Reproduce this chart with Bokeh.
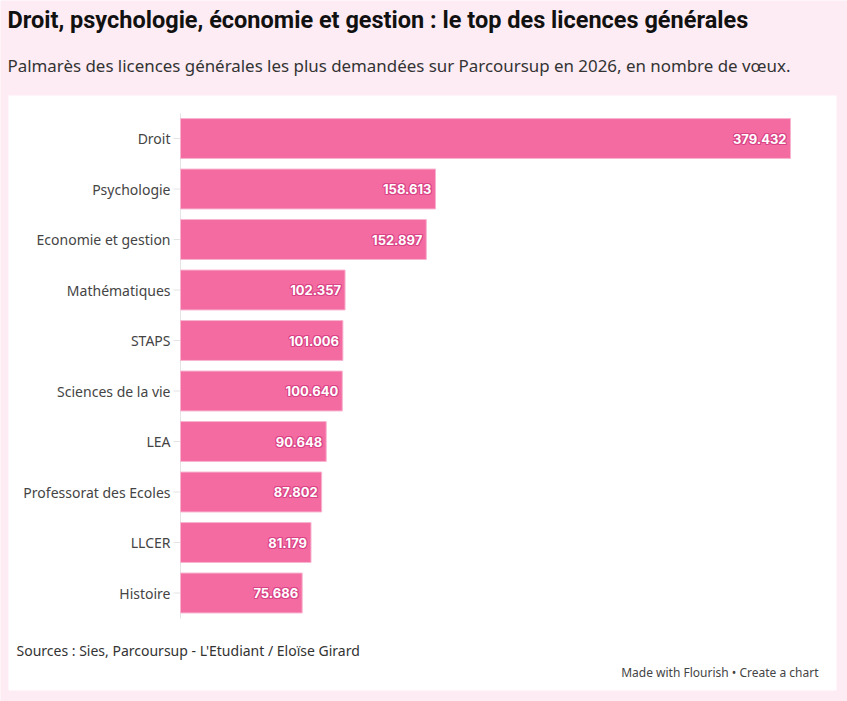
from bokeh.plotting import figure
from bokeh.models import Range1d, Label, ColumnDataSource
from bokeh.embed import file_html
from bokeh.resources import INLINE
from bokeh.core.properties import value

# Licences les plus demandées (nombre de vœux)
categories = ["Droit", "Psychologie", "Economie et gestion", "Mathématiques", "STAPS",
              "Sciences de la vie", "LEA", "Professorat des Ecoles", "LLCER", "Histoire"]
voeux = [379432, 158613, 152897, 102357, 101006, 100640, 90648, 87802, 81179, 75686]
value_labels = ["379.432", "158.613", "152.897", "102.357", "101.006",
                "100.640", "90.648", "87.802", "81.179", "75.686"]

W, H = 847, 701
PAGE_BG = "#fdecf4"
BAR = "#f36ba1"
HALO = "#d94386"

# pixel geometry: bars start at zero_px, the longest bar ends at max_px
zero_px, max_px = 180, 790
first_center_px, band_px = 138, 50.5

units_per_px = max(voeux) / (max_px - zero_px)
x_start = -zero_px * units_per_px
x_end = x_start + W * units_per_px
y_top = -first_center_px / band_px
y_bottom = y_top + H / band_px

def xpx(px):
    return (px - zero_px) * units_per_px

def ypx(px):
    return (px - first_center_px) / band_px

# the plotting frame fills the whole canvas
p = figure(width=W, height=H, output_backend="svg", toolbar_location=None,
           x_range=Range1d(x_start, x_end), y_range=Range1d(y_bottom, y_top),
           min_border=0, background_fill_color=PAGE_BG, border_fill_color=PAGE_BG,
           outline_line_color=None)
p.xaxis.visible = False
p.yaxis.visible = False
p.grid.visible = False

# white card behind the chart
p.quad(left=xpx(8), right=xpx(836), top=ypx(95), bottom=ypx(690),
       fill_color="white", line_color=None)

idx = list(range(len(categories)))
src = ColumnDataSource(dict(y=idx, v=voeux, cat=categories, lab=value_labels))

# axis line and tick marks
p.segment(x0=0, x1=0, y0=ypx(113), y1=ypx(618), line_color="#e4e4e4", line_width=1)
p.segment(x0=xpx(173), x1=0, y0="y", y1="y", source=src, line_color="#e4e4e4", line_width=1)

# bars
p.hbar(y="y", left=0, right="v", height=0.79, source=src,
       fill_color=BAR, line_color="#f8b3cf", line_width=1)

# category labels
p.text(x=xpx(170), y="y", text="cat", source=src, text_align="right",
       text_baseline="middle", text_font=value("Noto Sans"), text_font_size="14px",
       text_color="#444444")

# value labels inside the bars: a darker halo drawn first, white text on top
label_style = dict(source=src, text_align="right", text_baseline="middle",
                   text_font=value("Inter"), text_font_size="13px", text_font_style="bold")
for dx, dy in [(-1, 0), (1, 0), (0, -1), (0, 1), (-1, -1), (1, 1), (-1, 1), (1, -1)]:
    p.text(x="v", y="y", text="lab", x_offset=-4 + dx, y_offset=dy,
           text_color=HALO, text_alpha=0.9, **label_style)
p.text(x="v", y="y", text="lab", x_offset=-4, text_color="white", **label_style)

# footer texts
p.add_layout(Label(x=xpx(16), y=ypx(650), text="Sources : Sies, Parcoursup - L'Etudiant / Eloïse Girard",
                   text_font="Noto Sans", text_font_size="14px", text_color="#333333",
                   text_baseline="middle", text_align="left"))
p.add_layout(Label(x=xpx(818), y=ypx(672), text="Made with Flourish • Create a chart",
                   text_font="Noto Sans", text_font_size="12px", text_color="#444444",
                   text_baseline="middle", text_align="right"))

# headings in the pink band above the card
p.add_layout(Label(x=xpx(7), y=ypx(19),
                   text="Droit, psychologie, économie et gestion : le top des licences générales",
                   text_font="Roboto", text_font_size="23.5px", text_font_style="bold",
                   text_color="#111111", text_baseline="middle", text_align="left"))
p.add_layout(Label(x=xpx(7), y=ypx(65),
                   text="Palmarès des licences générales les plus demandées sur Parcoursup en 2026, en nombre de vœux.",
                   text_font="Noto Sans", text_font_size="16.9px",
                   text_color="#333333", text_baseline="middle", text_align="left"))

open("out.html", "w").write(file_html(p, INLINE))
